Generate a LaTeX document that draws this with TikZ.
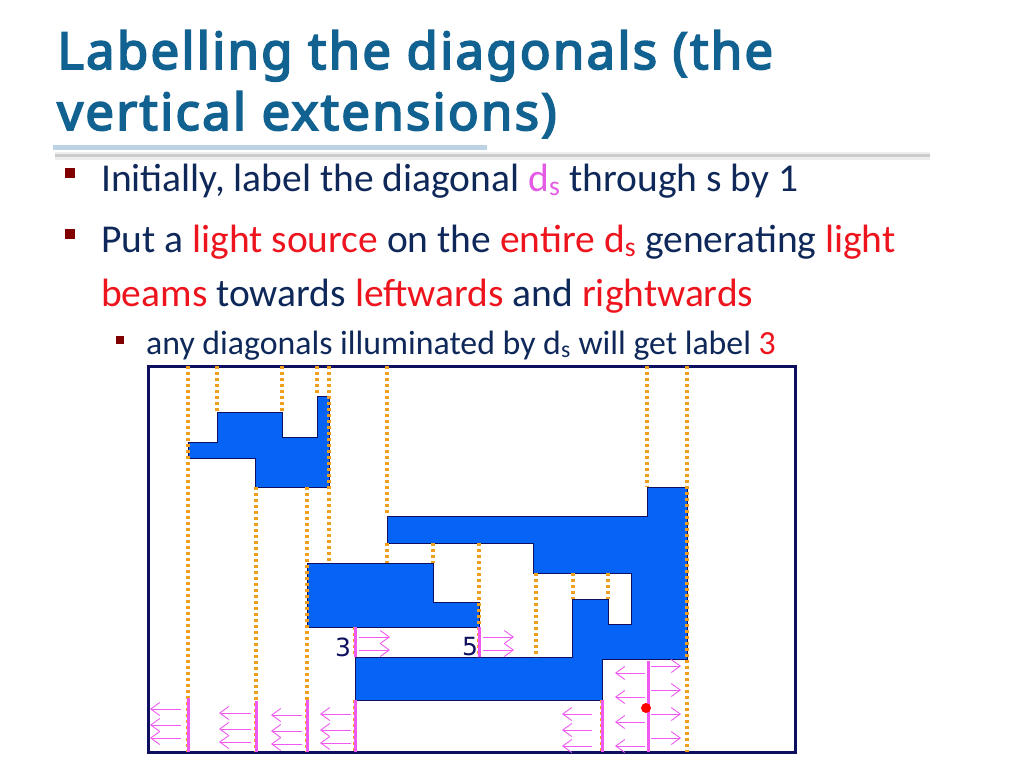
\documentclass[tikz,border=0pt]{standalone}
\usepackage{fontspec}
\setmainfont{Carlito}
\newfontfamily\titlefont{Noto Sans}[FakeBold=3.5, LetterSpace=4.3]
\newfontfamily\numfont{DejaVu Sans}
\usetikzlibrary{arrows.meta}
\definecolor{titleblue}{RGB}{18,98,145}
\definecolor{navytext}{RGB}{14,40,90}
\definecolor{redword}{RGB}{238,20,30}
\definecolor{pinkds}{RGB}{228,90,228}
\definecolor{bulletred}{RGB}{128,0,0}
\definecolor{lineblue}{RGB}{190,210,230}
\definecolor{framecol}{RGB}{15,15,95}
\definecolor{polyblue}{RGB}{5,100,245}
\definecolor{dotorange}{RGB}{240,160,30}
\definecolor{beam}{RGB}{240,90,240}
\begin{document}
\begin{tikzpicture}[x=1pt,y=-1pt,
        every node/.style={inner sep=0pt},%
        bord/.style={draw=framecol, line width=3pt},% cadre de la figure
        bloc/.style={fill=polyblue, draw=framecol, line width=1pt},% polygones
        extension/.style={draw=dotorange, line width=3.4pt, dash pattern=on 3pt off 3pt},% extensions verticales
        diag/.style={draw=beam, line width=3pt},% diagonales eclairees
        beamarrow/.style={draw=beam, line width=0.9pt, -{Straight Barb[length=9pt,width=13pt]}},%
        puce/.style={fill=bulletred, minimum size=10pt}]
    \useasboundingbox (0,0) rectangle (1024,768);

    % titre
    \node (titre1) at (57,69) [anchor=base west, text=titleblue, font=\titlefont\fontsize{51}{62}\selectfont] {Labelling the diagonals (the};
    \node (titre2) at (57,130) [anchor=base west, text=titleblue, font=\titlefont\fontsize{51}{62}\selectfont] {vertical extensions)};
    \draw[line width=8pt, black!7] (55,156) -- (930,156);
    \draw[line width=3pt, black!20] (55,155) -- (930,155);
    \draw[line width=5pt, lineblue] (53,147) -- (487,147);

    % texte
    \node[puce] (p1) at (70,173) {};
    \node (item1) at (101,191) [anchor=base west, text=navytext, font=\fontsize{39.5}{48}\selectfont] {Initially, label the diagonal \textcolor{pinkds}{d\textsubscript{s}} through s by 1};
    \node[puce] (p2) at (70,234) {};
    \node (item2) at (101,252) [anchor=base west, text=navytext, font=\fontsize{39.5}{48}\selectfont] {Put a \textcolor{redword}{light source} on the \textcolor{redword}{entire d\textsubscript{s}} generating \textcolor{redword}{light}};
    \node (item2b) at (101,306) [anchor=base west, text=navytext, font=\fontsize{39.5}{48}\selectfont] {\textcolor{redword}{beams} towards \textcolor{redword}{leftwards} and \textcolor{redword}{rightwards}};
    \node[puce, minimum size=8pt] (p3) at (120,340) {};
    \node (sub1) at (146,354) [anchor=base west, text=navytext, font=\fontsize{33.8}{40}\selectfont] {any diagonals illuminated by d\textsubscript{s} will get label \textcolor{redword}{3}};

    % figure
    \draw[bord] (148,366) rectangle (795,752);
    \draw[bloc] (188,442) -- (217,442) -- (217,412) -- (282,412) -- (282,437) -- (317,437) -- (317,396) -- (329,396)
        -- (329,487) -- (255,487) -- (255,458) -- (188,458) -- cycle;
    \draw[bloc] (307,563) -- (433,563) -- (433,602) -- (479,602) -- (479,627) -- (307,627) -- cycle;
    \draw[bloc] (387,516) -- (647,516) -- (647,487) -- (687,487) -- (687,659) -- (602,659) -- (602,700) -- (355,700)
        -- (355,657) -- (572,657) -- (572,599) -- (608,599) -- (608,624) -- (631,624) -- (631,573) -- (533,573)
        -- (533,543) -- (387,543) -- cycle;

    \foreach \x/\ya/\yb in {188/366/752, 217/366/412, 282/366/412, 317/366/396, 329/366/563, 387/366/516, 387/543/563,
            647/366/487, 687/366/752, 256/487/752, 307/487/752, 433/543/563, 479/543/657, 536/573/657, 573/573/599,
            608/573/599, 355/627/657, 355/700/752, 602/700/752}
        \draw[extension] (\x,\ya) -- (\x,\yb);

    \foreach \x/\ya/\yb in {355/627/657, 479/627/657, 188/698/752, 256/701/752, 307/700/752, 355/700/752, 602/700/752, 648/661/752}
        \draw[diag] (\x,\ya) -- (\x,\yb);

    % faisceaux
    \foreach \y in {637,650} {
        \draw[beamarrow] (359,\y) -- (390,\y);
        \draw[beamarrow] (483,\y) -- (514,\y);
    }
    \foreach \xa/\xb/\ya/\yb/\yc in {181/150/709/725/738, 251/219/713/729/742, 302/271/715/731/744, 351/320/714/730/743, 592/562/714/730/746}
        \foreach \y in {\ya,\yb,\yc}
            \draw[beamarrow] (\xa,\y) -- (\xb,\y);
    \foreach \y in {673,697,722,746}
        \draw[beamarrow] (645,\y) -- (615,\y);
    \foreach \y in {666,690,714,738}
        \draw[beamarrow] (651,\y) -- (681,\y);
    \fill[red] (646,708) circle (5);% s

    \node (lab3) at (343,647) [text=framecol, font=\numfont\fontsize{25}{25}\selectfont] {3};
    \node (lab5) at (470,647) [text=framecol, font=\numfont\fontsize{25}{25}\selectfont] {5};
\end{tikzpicture}
\end{document}
